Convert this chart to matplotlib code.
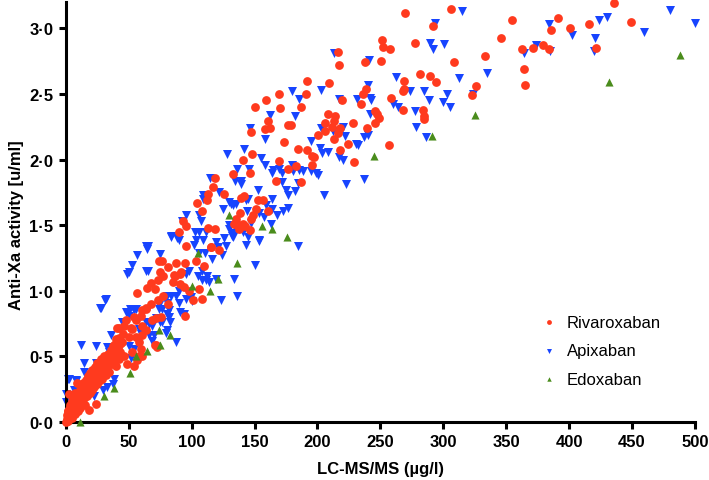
import matplotlib
matplotlib.use("Agg")
import matplotlib.pyplot as plt

plt.rcParams['font.family'] = ['Liberation Sans', 'DejaVu Sans']

# values: (LC-MS/MS [ug/l], anti-Xa [u/ml])
riva_pts = [
    # low cluster
    (0.3, 0.00), (0.8, 0.02), (1.2, 0.05), (1.3, 0.08), (1.5, 0.01), (2.0, 0.08), (2.2, 0.03), (2.4, 0.21),
    (2.8, 0.10), (3.0, 0.05), (3.5, 0.13), (4.0, 0.07), (4.5, 0.11), (5.0, 0.16), (5.2, 0.03),
    (5.8, 0.09), (6.0, 0.19), (6.5, 0.13), (7.0, 0.06), (7.2, 0.22), (7.8, 0.15), (8.0, 0.11),
    (8.5, 0.18), (9.0, 0.30), (9.3, 0.08), (9.8, 0.21), (10.2, 0.14), (10.8, 0.24), (11.0, 0.18),
    (11.5, 0.11), (12.0, 0.27), (12.3, 0.20), (12.8, 0.15), (13.2, 0.23), (13.8, 0.30), (14.0, 0.18),
    (14.5, 0.26), (15.0, 0.13), (15.3, 0.22), (15.8, 0.32), (16.2, 0.27), (16.8, 0.20), (17.2, 0.35),
    (17.5, 0.25), (18.0, 0.30), (18.3, 0.09), (18.8, 0.22), (19.2, 0.37), (19.5, 0.28), (20.0, 0.33),
    (20.5, 0.24), (21.0, 0.40), (21.3, 0.30), (21.8, 0.36), (22.2, 0.27), (22.8, 0.42), (23.2, 0.33),
    (23.6, 0.14), (24.0, 0.38), (24.5, 0.29), (25.0, 0.45), (25.3, 0.35), (25.8, 0.40), (26.3, 0.31),
    (26.8, 0.44), (27.2, 0.37), (27.8, 0.48), (28.3, 0.41), (28.8, 0.33), (29.3, 0.45), (30.0, 0.39),
    (30.5, 0.50), (31.0, 0.43), (31.5, 0.36), (32.2, 0.47), (32.8, 0.41), (33.5, 0.52), (34.0, 0.45),
    (34.5, 0.38), (35.2, 0.49), (35.8, 0.55), (36.5, 0.44), (37.0, 0.51), (37.8, 0.58), (38.5, 0.47),
    (39.2, 0.54), (40.0, 0.60), (40.8, 0.50), (41.5, 0.57), (42.2, 0.64), (43.0, 0.53), (44.0, 0.60),
    (45.0, 0.67),
    # middle
    (36.9, 0.52), (39.6, 0.43), (42.2, 0.48), (46.2, 0.50), (48.8, 0.44), (52.8, 0.53), (54.1, 0.43),
    (56.8, 0.47), (58.1, 0.50), (60.8, 0.50), (59.5, 0.56), (71.4, 0.59), (72.2, 0.57), (38.2, 0.59),
    (44.8, 0.61), (58.1, 0.61), (39.6, 0.63), (50.2, 0.65), (55.5, 0.65), (60.8, 0.66), (52.3, 0.71),
    (60.8, 0.73), (63.4, 0.70), (42.2, 0.72), (46.2, 0.73), (51.5, 0.72), (47.5, 0.78), (55.5, 0.78),
    (68.7, 0.78), (71.4, 0.79), (75.4, 0.80), (60.0, 0.81), (60.8, 0.85), (63.9, 0.87), (67.7, 0.90),
    (73.2, 0.93), (81.5, 0.90), (77.2, 0.96), (56.5, 0.98), (64.2, 1.02), (67.7, 1.06), (70.6, 1.01),
    (73.5, 1.08), (74.8, 1.14), (77.5, 1.11), (86.0, 1.12), (90.5, 1.13), (85.2, 1.07), (90.8, 1.05),
    (94.0, 1.03), (97.9, 1.00), (101.4, 0.93), (108.5, 0.94), (94.7, 0.81), (105.6, 1.01), (74.0, 1.23),
    (76.5, 1.23), (81.5, 1.18), (87.8, 1.21), (94.7, 1.21), (103.7, 1.23), (109.9, 1.19), (115.7, 1.33),
    (121.3, 1.31), (95.8, 1.34), (91.3, 1.14), (86.8, 1.11), (63.7, 0.86), (40.9, 0.72), (34.2, 0.49),
    (38.2, 0.56), (42.2, 0.59), (70.6, 0.59), (54.1, 0.80),
    # upper middle
    (90.0, 1.45), (93.2, 1.53), (95.8, 1.49), (104.5, 1.67), (108.0, 1.61), (112.5, 1.69),
    (113.3, 1.74), (117.3, 1.79), (118.6, 1.86), (125.5, 1.74), (112.7, 1.48), (118.6, 1.47),
    (115.2, 1.33), (133.0, 1.89), (140.4, 2.00), (146.2, 1.90), (147.8, 2.04), (139.3, 1.71),
    (141.2, 1.72), (156.3, 1.69), (153.0, 1.69), (151.5, 1.62), (160.8, 1.61), (148.9, 1.58),
    (147.5, 1.55), (138.5, 1.59), (135.1, 1.55), (133.8, 1.51), (137.7, 1.47), (142.5, 1.49),
    (146.5, 1.46), (140.4, 1.51), (135.9, 1.51), (169.6, 1.99), (176.2, 1.93), (182.9, 1.95),
    (167.4, 1.84), (186.9, 1.83), (173.6, 2.13), (184.2, 2.08), (192.0, 2.07), (195.3, 2.03),
    (197.5, 2.02), (195.3, 1.96), (150.5, 2.40), (159.0, 2.45), (169.6, 2.50), (191.0, 2.50),
    (192.0, 2.60), (209.4, 2.58), (216.3, 2.82), (216.8, 2.72), (170.1, 2.39), (187.1, 2.40),
    (219.5, 2.45), (160.3, 2.29), (158.2, 2.23), (162.4, 2.24), (147.3, 2.21), (176.5, 2.26),
    (179.0, 2.26), (208.6, 2.35), (214.2, 2.33), (213.4, 2.29), (211.5, 2.25), (206.2, 2.22),
    (200.1, 2.19), (205.7, 2.28), (217.9, 2.24), (216.0, 2.20), (213.4, 2.16), (224.0, 2.12),
    (218.0, 2.07), (229.0, 1.98), (228.0, 2.28),
    # upper
    (267.8, 2.38), (284.2, 2.38), (284.5, 2.33), (284.5, 2.31), (246.0, 2.37), (247.0, 2.35),
    (249.2, 2.32), (246.0, 2.28), (239.0, 2.24), (256.6, 2.11), (236.5, 2.50), (238.6, 2.54),
    (234.6, 2.42), (258.5, 2.47), (268.6, 2.60), (268.6, 2.54), (267.8, 2.52), (281.3, 2.65),
    (289.8, 2.64), (294.0, 2.59), (237.5, 2.74), (250.8, 2.75), (251.0, 2.91), (251.8, 2.86),
    (257.4, 2.84), (277.9, 2.89), (269.4, 3.12), (306.0, 3.15), (292.0, 3.02), (308.4, 2.74),
    (332.8, 2.79), (326.0, 2.56), (323.0, 2.49), (346.0, 2.93), (354.8, 3.06), (362.8, 2.84),
    (371.0, 2.85), (379.0, 2.87), (384.0, 2.84), (364.0, 2.69), (364.6, 2.57), (386.0, 2.99),
    (391.0, 3.08), (400.5, 3.00), (416.0, 3.03), (421.7, 2.85), (435.5, 3.19), (449.0, 3.05),
]

apix_pts = [
    (0.0, 0.15), (0.0, 0.21), (1.9, 0.33), (2.4, 0.33), (6.6, 0.24), (6.6, 0.12), (7.7, 0.32),
    (8.0, 0.31), (9.3, 0.15), (11.9, 0.23), (11.9, 0.59), (14.1, 0.45), (14.6, 0.38), (16.5, 0.36),
    (17.3, 0.28), (19.9, 0.30), (22.5, 0.20), (23.6, 0.58), (23.9, 0.45), (27.9, 0.41), (29.2, 0.24),
    (33.0, 0.27), (37.2, 0.29), (38.5, 0.33), (34.5, 0.53), (36.9, 0.53), (39.6, 0.56), (32.9, 0.57),
    (35.6, 0.66), (26.8, 0.87), (31.0, 0.93), (27.6, 0.87), (31.6, 0.94), (44.8, 0.76), (47.5, 0.84),
    (49.6, 0.84), (51.0, 0.86), (54.0, 0.86), (50.2, 0.81), (54.1, 0.85), (55.5, 0.86), (60.8, 0.84),
    (50.2, 0.58), (54.1, 0.56), (51.8, 0.49), (58.1, 0.71), (59.5, 0.67), (66.1, 0.66), (68.7, 0.62),
    (70.0, 0.66), (63.4, 0.76), (66.1, 0.75), (68.7, 0.73), (68.7, 0.76), (74.6, 0.76), (76.7, 0.76),
    (71.4, 0.79), (79.4, 0.68), (80.7, 0.70), (82.0, 0.80), (80.2, 0.82), (82.8, 0.76), (87.3, 0.61),
    (74.0, 0.86), (76.7, 0.86), (80.7, 0.91), (74.0, 0.89), (82.0, 0.85), (90.8, 0.84), (94.0, 0.82),
    (90.0, 0.91), (95.3, 0.94), (99.3, 0.95), (87.3, 0.96), (80.7, 0.96), (83.3, 0.96), (90.0, 1.00),
    (97.9, 0.99), (100.6, 0.92), (97.9, 1.15), (108.5, 1.15), (112.5, 1.11), (111.2, 1.08),
    (108.0, 1.08), (105.3, 1.11), (114.0, 1.07), (119.7, 1.09), (123.2, 0.93), (135.9, 0.96),
    (133.8, 1.09), (150.2, 1.20), (48.8, 1.13), (50.2, 1.14), (52.8, 1.20), (56.3, 1.27), (63.4, 1.15),
    (65.5, 1.15), (64.7, 1.32), (65.5, 1.34), (74.8, 1.28), (83.4, 1.42), (90.0, 1.39), (95.3, 1.13),
    (101.9, 1.35), (103.3, 1.39), (110.7, 1.29), (106.0, 1.29), (116.5, 1.24), (119.7, 1.37),
    (121.0, 1.33), (124.0, 1.27), (127.2, 1.34), (132.4, 1.42), (153.4, 1.38), (184.2, 1.34),
    (64.0, 1.34), (83.8, 1.41), (88.6, 1.40), (92.1, 1.53), (95.5, 1.58), (103.0, 1.45), (106.0, 1.45),
    (111.7, 1.45), (109.0, 1.39), (107.2, 1.53), (105.9, 1.58), (125.8, 1.40), (129.5, 1.47),
    (132.4, 1.44), (133.0, 1.41), (135.6, 1.47), (140.4, 1.45), (144.4, 1.41), (143.3, 1.35),
    (153.1, 1.39), (129.8, 1.50), (147.5, 1.52), (108.8, 1.70), (109.0, 1.73), (114.4, 1.86),
    (121.3, 1.75), (125.0, 1.62), (129.8, 1.68), (131.4, 1.66), (133.0, 1.65), (135.6, 1.66),
    (143.0, 1.69), (144.0, 1.61), (144.4, 1.70), (153.1, 1.59), (152.9, 1.77), (157.6, 1.56),
    (159.0, 1.65), (163.8, 1.62), (164.2, 1.70), (163.0, 1.51), (168.2, 1.58), (172.5, 1.61),
    (176.5, 1.63), (174.6, 1.77), (176.5, 1.73), (181.8, 1.76), (184.2, 1.82), (171.7, 1.83),
    (205.2, 1.73), (222.7, 1.81), (237.0, 1.85), (128.4, 2.04), (135.9, 1.93), (145.2, 1.93),
    (138.8, 1.84), (134.6, 1.84), (139.1, 1.81), (141.7, 2.08), (154.7, 2.01), (158.4, 1.96),
    (164.6, 1.92), (172.0, 1.90), (169.6, 1.93), (179.7, 1.96), (180.5, 1.91), (185.5, 1.92),
    (188.5, 1.91), (198.5, 1.90), (200.6, 1.88), (195.0, 1.91), (164.2, 1.90), (158.4, 2.16),
    (146.5, 2.24), (162.2, 2.34), (181.8, 2.33), (179.4, 2.52), (185.5, 2.46), (203.0, 2.53),
    (213.4, 2.81), (216.8, 2.46), (231.1, 2.46), (202.8, 2.24), (212.0, 2.22), (222.0, 2.18),
    (230.6, 2.12), (195.0, 2.14), (202.2, 2.09), (208.0, 2.06), (203.3, 2.05), (216.8, 2.02),
    (220.5, 2.00), (220.5, 2.25), (236.7, 2.17), (239.9, 2.19), (232.0, 2.11), (242.0, 2.35),
    (240.4, 2.57), (240.7, 2.76), (242.0, 2.47), (242.3, 2.45), (262.5, 2.63), (259.8, 2.42),
    (263.8, 2.40), (273.3, 2.52), (284.5, 2.52), (288.5, 2.45), (299.4, 2.44), (303.0, 2.50),
    (305.0, 2.40), (312.4, 2.62), (323.8, 2.50), (335.0, 2.66), (277.3, 2.37), (278.4, 2.25),
    (286.4, 2.17), (289.6, 2.89), (292.0, 2.84), (300.2, 2.88), (293.3, 3.04), (314.7, 3.13),
    (383.8, 3.03), (402.6, 2.95), (423.8, 3.06), (430.0, 3.09), (420.6, 2.93), (374.0, 2.87),
    (363.9, 2.81), (384.6, 2.83), (419.6, 2.83), (459.4, 2.97), (480.0, 3.14), (500.5, 3.04),
]

edox_pts = [
    (11.1, 0.00), (30.5, 0.20), (38.3, 0.26), (51.0, 0.37), (55.5, 0.50), (64.2, 0.54), (74.6, 0.59),
    (82.6, 0.66), (74.0, 0.70), (100.0, 1.04), (114.4, 1.00), (120.8, 1.09), (105.3, 1.29),
    (136.4, 1.21), (129.8, 1.58), (155.8, 1.49), (163.5, 1.47), (175.4, 1.41), (244.7, 2.03),
    (291.0, 2.18), (325.0, 2.34), (432.0, 2.59), (488.0, 2.80),
]

x_ticks = [0, 50, 100, 150, 200, 250, 300, 350, 400, 450, 500]
y_ticks = [0.0, 0.5, 1.0, 1.5, 2.0, 2.5, 3.0]
y_ticklabels = ['0\u00b70', '0\u00b75', '1\u00b70', '1\u00b75', '2\u00b70', '2\u00b75', '3\u00b70']

fig = plt.figure(figsize=(7.09, 4.81), dpi=100)
ax = fig.add_axes([0.093, 0.1206, 0.887, 0.873])

rx, ry = zip(*riva_pts)
bx, by = zip(*apix_pts)
gx, gy = zip(*edox_pts)

ax.scatter(rx, ry, s=40, marker='o', color='#ff3a1e', linewidths=0, label='Rivaroxaban', clip_on=False, zorder=3)
ax.scatter(bx, by, s=42, marker='v', color='#1744ff', linewidths=0, label='Apixaban', clip_on=False, zorder=2)
ax.scatter(gx, gy, s=34, marker='^', color='#4a8c1c', linewidths=0, label='Edoxaban', clip_on=False, zorder=4)

ax.set_xlim(0, 500)
ax.set_ylim(0, 3.2)
ax.set_xticks(x_ticks)
ax.set_yticks(y_ticks)
ax.set_yticklabels(y_ticklabels)

for s in ['top', 'right']:
    ax.spines[s].set_visible(False)
for s in ['left', 'bottom']:
    ax.spines[s].set_linewidth(2.2)
ax.tick_params(direction='out', length=5, width=2.2, labelsize=12, pad=4)
for lab in ax.get_xticklabels() + ax.get_yticklabels():
    lab.set_fontweight('bold')

ax.set_xlabel('LC-MS/MS (\u00b5g/l)', fontsize=12, fontweight='bold', labelpad=8)
ax.set_ylabel('Anti-Xa activity [u/ml]', fontsize=12, fontweight='bold')
ax.yaxis.set_label_coords(-0.066, 0.47)

ax.legend(loc='upper left', bbox_to_anchor=(0.742, 0.275), frameon=False, fontsize=12,
          markerscale=0.55, handlelength=1.0, handletextpad=0.55, labelspacing=0.8, borderpad=0)

fig.savefig('out.png', dpi=100)
